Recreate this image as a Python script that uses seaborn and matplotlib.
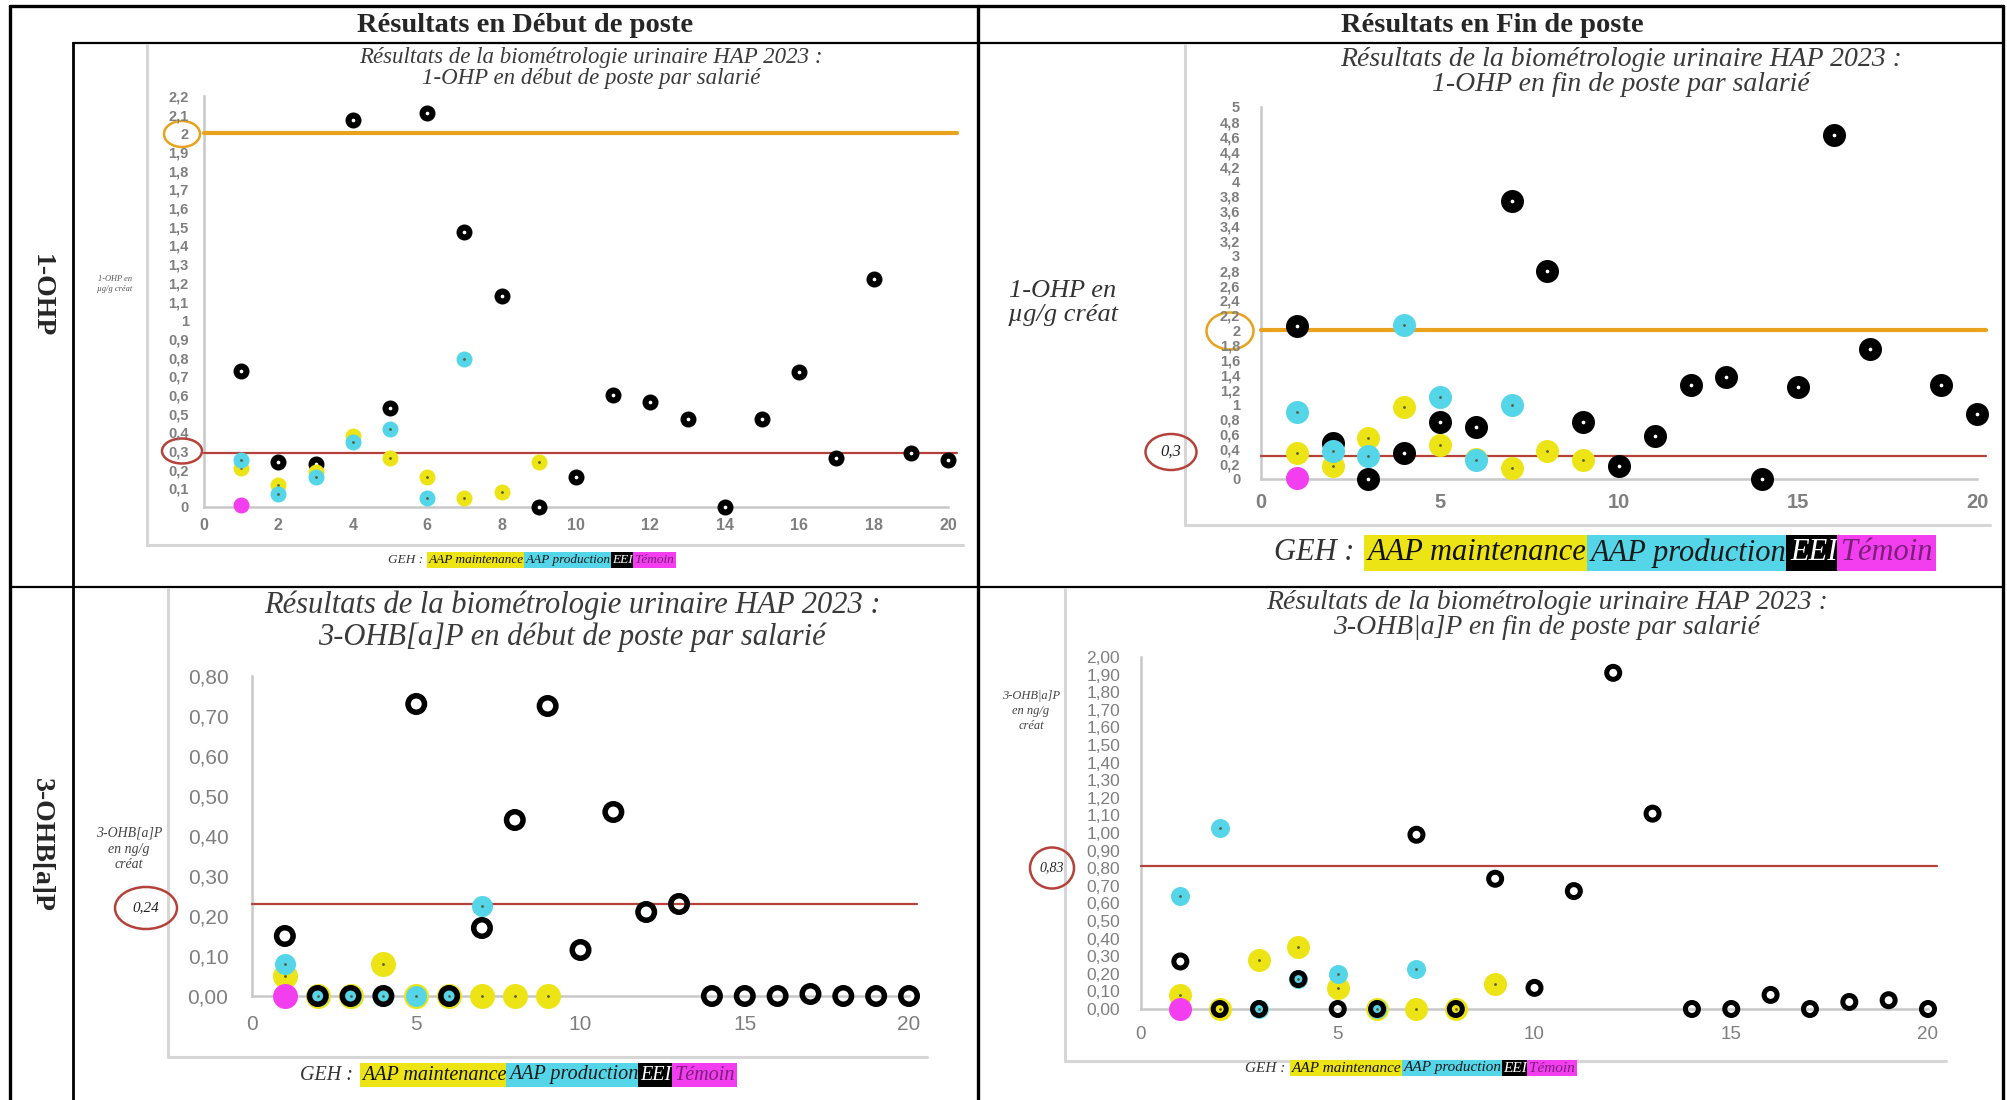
import numpy as np
import pandas as pd
import matplotlib
matplotlib.use("Agg")
import matplotlib.pyplot as plt
import seaborn as sns
from matplotlib.patches import Ellipse
from matplotlib.ticker import FuncFormatter

# ---- data (x = salarie index inside each GEH) ----
# 1-OHP debut de poste (ug/g creat)
ohp_deb_maint = [0.21, 0.12, 0.19, 0.38, 0.26, 0.16, 0.05, 0.08, 0.24]
ohp_deb_prod = [0.25, 0.07, 0.16, 0.35, 0.42, 0.05, 0.79]
ohp_deb_eei = [0.73, 0.24, 0.23, 2.07, 0.53, 2.11, 1.47, 1.13, 0.00, 0.16,
               0.60, 0.56, 0.47, 0.00, 0.47, 0.72, 0.26, 1.22, 0.29, 0.25]
ohp_deb_temoin = [0.01]

# 1-OHP fin de poste
ohp_fin_maint = [0.35, 0.18, 0.55, 0.97, 0.46, 0.27, 0.15, 0.38, 0.25]
ohp_fin_prod = [0.90, 0.38, 0.31, 2.07, 1.10, 0.25, 0.99]
ohp_fin_eei = [2.06, 0.48, 0.00, 0.35, 0.77, 0.70, 3.73, 2.79, 0.77, 0.17,
               0.58, 1.27, 1.37, 0.00, 1.23, 4.62, 1.75, np.nan, 1.26, 0.88]
ohp_fin_temoin = [0.02]

# 3-OHB[a]P debut de poste (ng/g creat)
bap_deb_maint = [0.05, 0.00, 0.00, 0.08, 0.00, 0.00, 0.00, 0.00, 0.00]
bap_deb_prod = [0.08, 0.00, 0.00, 0.00, 0.00, 0.00, 0.225]
bap_deb_eei = [0.15, 0.00, 0.00, 0.00, 0.73, 0.00, 0.17, 0.44, 0.725, 0.115,
               0.46, 0.21, 0.23, 0.00, 0.00, 0.00, 0.005, 0.00, 0.00, 0.00]
bap_deb_temoin = [0.00]

# 3-OHB[a]P fin de poste
bap_fin_maint = [0.08, 0.00, 0.28, 0.35, 0.12, 0.00, 0.00, 0.00, 0.14]
bap_fin_prod = [0.64, 1.03, 0.00, 0.17, 0.20, 0.00, 0.23]
bap_fin_eei = [0.27, 0.00, 0.00, 0.17, 0.00, 0.00, 0.99, 0.00, 0.74, 0.12,
               0.67, 1.91, 1.11, 0.00, 0.00, 0.08, 0.00, 0.04, 0.05, 0.00]
bap_fin_temoin = [0.00]

# limit lines as drawn on the picture
ohp_deb_lines = [2.0, 0.29]
ohp_fin_lines = [2.0, 0.31]
bap_deb_lines = [0.23]
bap_fin_lines = [0.81]

groups = ["AAP maintenance", "AAP production", "EEI", "Témoin"]
group_colors = {"AAP maintenance": "#EDE416", "AAP production": "#55D6E8",
                "EEI": "#000000", "Témoin": "#F23EEE"}
legend_text_colors = ["#111111", "#1a1a1a", "#FFFFFF", "#7B1F7B"]

titles = [
    "Résultats de la biométrologie urinaire HAP 2023 :\n1-OHP en début de poste par salarié",
    "Résultats de la biométrologie urinaire HAP 2023 :\n1-OHP en fin de poste par salarié",
    "Résultats de la biométrologie urinaire HAP 2023 :\n3-OHB[a]P en début de poste par salarié",
    "Résultats de la biométrologie urinaire HAP 2023 :\n3-OHB|a]P en fin de poste par salarié",
]
ylabels = ["1-OHP en\nµg/g créat", "1-OHP en\nµg/g créat",
           "3-OHB[a]P\nen ng/g\ncréat", "3-OHB|a]P\nen ng/g\ncréat"]
col_headers = ["Résultats en Début de poste", "Résultats en Fin de poste"]
row_headers = ["1-OHP", "3-OHB[a]P"]


def to_frame(maint, prod, eei, temoin):
    rows = []
    for g, vals in zip(groups, [maint, prod, eei, temoin]):
        for i, v in enumerate(vals):
            rows.append({"salarie": i + 1, "valeur": v, "geh": g})
    return pd.DataFrame(rows)


sns.set_theme(style="white")
plt.rcParams["font.family"] = ["Liberation Sans", "DejaVu Sans"]
SERIF = ["Liberation Serif", "DejaVu Serif"]

W, H = 2008, 1100
fig = plt.figure(figsize=(W / 100, H / 100), dpi=100)
fig.patch.set_facecolor("white")

base = fig.add_axes([0, 0, 1, 1], zorder=0)
base.set_xlim(0, W)
base.set_ylim(H, 0)
base.axis("off")

# ---- table grid ----
K = "black"
base.plot([10, 2003], [6, 6], color=K, lw=2.4)
base.plot([10, 10], [6, H], color=K, lw=2.4)
base.plot([2003, 2003], [6, H], color=K, lw=2.4)
base.plot([978, 978], [6, H], color=K, lw=2.4)
base.plot([73, 73], [43, H], color=K, lw=2.0)
base.plot([73, 2003], [43, 43], color=K, lw=1.6)
base.plot([10, 2003], [587, 587], color=K, lw=1.6)

base.text(525, 25, col_headers[0], family=SERIF, fontweight="bold",
          fontsize=20.5, ha="center", va="center")
base.text(1492, 25, col_headers[1], family=SERIF, fontweight="bold",
          fontsize=20.5, ha="center", va="center")
base.text(41, 296, row_headers[0], family=SERIF, fontweight="bold",
          fontsize=20, ha="center", va="center", rotation=-90)
base.text(41, 845, row_headers[1], family=SERIF, fontweight="bold",
          fontsize=20, ha="center", va="center", rotation=-90)

# chart-area borders (light grey)
GR = "#D6D6D6"
for (xl, yt, yb, xr) in [(147, 45, 545, 963), (1185, 45, 525, 1990),
                         (168, 589, 1057, 927), (1065, 589, 1061, 1946)]:
    base.plot([xl, xl], [yt, yb], color=GR, lw=2.2)
    base.plot([xl, xr], [yb, yb], color=GR, lw=2.2)


def px_rect(x0, x1, ytop, ybot):
    return [x0 / W, 1 - ybot / H, (x1 - x0) / W, (ybot - ytop) / H]


def fmt_general(v, pos):
    return f"{v:g}".replace(".", ",")


def fmt_two(v, pos):
    return f"{v:.2f}".replace(".", ",")


ORANGE = "#E8A21C"
RED = "#B5423A"


def draw_panel(rect, df, ymax, ystep, xstep, yfmt, style, lines, line_colors,
               tick_size, tick_weight, ypad, xpad, sizes, ytick_size=None):
    ax = fig.add_axes(rect, zorder=2)
    ax.set_facecolor("none")
    d_y, d_c, d_r, ring_w = sizes  # diameters in px

    def s_of(d):
        return (d * 0.72) ** 2

    if style == "top":
        order = ["EEI", "AAP maintenance", "AAP production", "Témoin"]
    else:
        order = ["AAP maintenance", "AAP production", "EEI", "Témoin"]

    for z, g in enumerate(order):
        sub = df[df["geh"] == g]
        if g == "EEI" and style == "bottom":
            sns.scatterplot(data=sub, x="salarie", y="valeur", ax=ax, s=s_of(d_r - ring_w),
                            facecolor="none", edgecolor="black", linewidth=ring_w * 0.72,
                            zorder=5 + z, clip_on=False, legend=False)
            continue
        d = d_c if g == "AAP production" else (d_r if g == "EEI" else d_y)
        sns.scatterplot(data=sub, x="salarie", y="valeur", ax=ax, s=s_of(d),
                        color=group_colors[g], linewidth=0, zorder=5 + z,
                        clip_on=False, legend=False)
        if g in ("AAP maintenance", "AAP production"):
            ax.scatter(sub["salarie"], sub["valeur"], s=4, color="#5a5a3a",
                       linewidth=0, zorder=5 + z, clip_on=False)
        elif g == "EEI":
            ax.scatter(sub["salarie"], sub["valeur"], s=7, color="white",
                       linewidth=0, zorder=5 + z, clip_on=False)

    for lv, lc in zip(lines, line_colors):
        lw = 3.0 if lc == ORANGE else 1.6
        ax.axhline(lv, xmin=0, xmax=1.012, color=lc, lw=lw, zorder=4, clip_on=False)

    ax.set_xlim(0, 20)
    ax.set_ylim(0, ymax)
    ax.set_xticks(np.arange(0, 21, xstep))
    ax.set_yticks(np.round(np.arange(0, ymax + 1e-9, ystep), 2))
    ax.yaxis.set_major_formatter(FuncFormatter(yfmt))
    ax.tick_params(length=0, labelsize=tick_size, labelcolor="#7F7F7F")
    if ytick_size:
        ax.tick_params(axis="y", labelsize=ytick_size)
    ax.tick_params(axis="y", pad=ypad)
    ax.tick_params(axis="x", pad=xpad)
    for lab in ax.get_xticklabels() + ax.get_yticklabels():
        lab.set_fontweight(tick_weight)
    sns.despine(ax=ax)
    for sp in ("left", "bottom"):
        ax.spines[sp].set_color("#C8C8C8")
        ax.spines[sp].set_linewidth(1.8)
    ax.set_xlabel("")
    ax.set_ylabel("")
    ax.grid(False)
    return ax


df1 = to_frame(ohp_deb_maint, ohp_deb_prod, ohp_deb_eei, ohp_deb_temoin)
df2 = to_frame(ohp_fin_maint, ohp_fin_prod, ohp_fin_eei, ohp_fin_temoin)
df3 = to_frame(bap_deb_maint, bap_deb_prod, bap_deb_eei, bap_deb_temoin)
df4 = to_frame(bap_fin_maint, bap_fin_prod, bap_fin_eei, bap_fin_temoin)

draw_panel(px_rect(204, 948, 96, 507), df1, 2.2, 0.1, 2, fmt_general, "top",
           ohp_deb_lines, [ORANGE, RED], 11.5, "bold", 11, 8, (16, 16, 16, 0),
           ytick_size=10.5)
draw_panel(px_rect(1261, 1977, 107, 479), df2, 5, 0.2, 5, fmt_general, "top",
           ohp_fin_lines, [ORANGE, RED], 14.5, "bold", 15, 10, (23, 23, 23, 0),
           ytick_size=10.5)
draw_panel(px_rect(252, 909, 676, 996), df3, 0.8, 0.1, 5, fmt_two, "bottom",
           bap_deb_lines, [RED], 15, "normal", 17, 14, (25, 21, 22, 5.5))
draw_panel(px_rect(1141, 1928, 657, 1009), df4, 2.0, 0.1, 5, fmt_two, "bottom",
           bap_fin_lines, [RED], 13.5, "normal", 15, 12, (23, 19, 18, 5),
           ytick_size=12.5)

# ---- titles ----
TC = "#3A3A3A"
base.text(591, 68, titles[0], family=SERIF, style="italic", fontsize=16.5,
          color=TC, ha="center", va="center", linespacing=1.05)
base.text(1621, 72, titles[1], family=SERIF, style="italic", fontsize=20,
          color=TC, ha="center", va="center", linespacing=1.05)
base.text(572, 621, titles[2], family=SERIF, style="italic", fontsize=22,
          color=TC, ha="center", va="center", linespacing=1.1)
base.text(1547, 615, titles[3], family=SERIF, style="italic", fontsize=20,
          color=TC, ha="center", va="center", linespacing=1.05)

# ---- y labels ----
base.text(115, 284, ylabels[0], family=SERIF, style="italic", fontsize=6,
          color="#555555", ha="center", va="center")
base.text(1063, 303, ylabels[1], family=SERIF, style="italic", fontsize=19,
          color="#333333", ha="center", va="center", linespacing=1.1)
base.text(129, 849, ylabels[2], family=SERIF, style="italic", fontsize=10,
          color="#444444", ha="center", va="center", linespacing=1.3)
base.text(1031, 711, ylabels[3], family=SERIF, style="italic", fontsize=9,
          color="#444444", ha="center", va="center", linespacing=1.3)

# ---- limit markers (circles) ----
for (cx, cy, w, h, c, lab, fs) in [
        (182, 134, 36, 26, ORANGE, None, 0), (182, 451, 40, 25, RED, None, 0),
        (1230, 331, 47, 37, ORANGE, None, 0), (1171, 452, 51, 36, RED, "0,3", 12),
        (146, 908, 62, 42, RED, "0,24", 11), (1052, 868, 44, 41, RED, "0,83", 10)]:
    base.add_patch(Ellipse((cx, cy), w, h, fill=False, ec=c, lw=1.8, zorder=3))
    if lab:
        base.text(cx, cy, lab, family=SERIF, style="italic", fontsize=fs,
                  color="#222222", ha="center", va="center")


# ---- GEH legends ----
def geh_legend(x, y, size):
    prev = base.text(x, y, "GEH :", family=SERIF, style="italic", fontsize=size,
                     color="#333333", ha="left", va="center")
    for i, (g, tc) in enumerate(zip(groups, legend_text_colors)):
        prev = base.annotate(g, xy=(1, 0.5), xycoords=prev,
                             xytext=(size * 0.45 if i == 0 else size * 0.12, 0),
                             textcoords="offset points", ha="left", va="center",
                             family=SERIF, style="italic", fontsize=size, color=tc,
                             bbox=dict(boxstyle="square,pad=0.12",
                                       fc=group_colors[g], ec="none"))


geh_legend(388, 560, 9.5)
geh_legend(1274, 553, 22)
geh_legend(300, 1075, 14.5)
geh_legend(1245, 1068, 11)

fig.savefig("out.png", dpi=100, facecolor="white")
